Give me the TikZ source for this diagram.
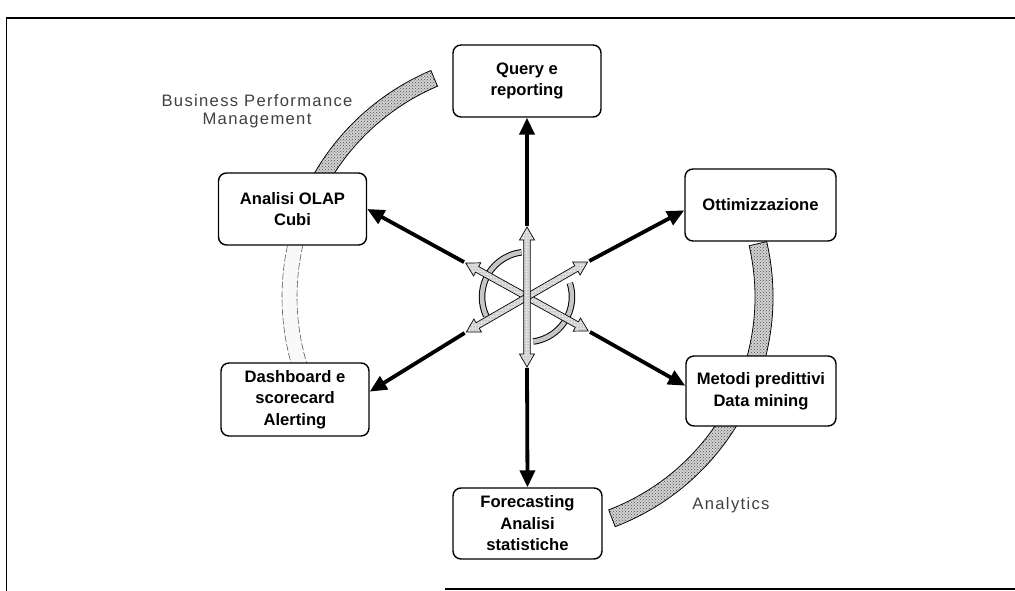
\documentclass[tikz,border=0pt]{standalone}
\usepackage{fontspec}
\setmainfont{Liberation Sans}
\newfontfamily\spacedsans[LetterSpace=8]{Liberation Sans}
\usetikzlibrary{arrows.meta,calc,patterns}

% annular sector around the hub (c): start angle, end angle, inner radius, outer radius, style
\newcommand\arcband[5]{%
  \path[#5] ($(c)+(#1:#3)$) arc[start angle=#1,end angle=#2,radius=#3]
    -- ($(c)+(#2:#4)$) arc[start angle=#2,end angle=#1,radius=#4] -- cycle;}

\begin{document}
\begin{tikzpicture}[x=1pt,y=1pt,
  box/.style={draw, line width=1.4pt, rounded corners=8pt, fill=white,
    minimum width=148pt, minimum height=72pt, align=center, inner sep=0pt,
    font=\fontsize{16.6}{21.5}\selectfont\bfseries},
  link/.style={line width=3.8pt, -{Triangle[length=17pt,width=15pt]}},
  grain/.style={draw=black, line width=0.8pt, fill=gray!35,
    postaction={pattern=crosshatch dots, pattern color=black!70}},
  lightgrain/.style={draw=black, line width=0.7pt, fill=gray!25,
    postaction={pattern=dots, pattern color=black!60}},
  paleband/.style={draw=black!65, line width=0.6pt, dash pattern=on 7pt off 2pt, fill=gray!5},
  hubarc/.style={line width=1pt, double=gray!45, double distance=4.5pt},
  caption/.style={align=center, text=black!75,
    font=\fontsize{16.6}{18.5}\selectfont\spacedsans},
  dblarrow/.pic={\path[lightgrain]
    (-70,0) -- (-57,7.5) -- (-57,3.2) -- (57,3.2) -- (57,7.5) -- (70,0)
    -- (57,-7.5) -- (57,-3.2) -- (-57,-3.2) -- (-57,-7.5) -- cycle;}
]
\useasboundingbox (0,0) rectangle (1015,591);

% page frame
\draw[line width=1.8pt] (6,573) -- (1015,573);
\draw[line width=0.8pt] (6,573) -- (6,0);
\draw[line width=1.8pt] (445,2) -- (1015,2);

% hub
\coordinate (c) at (527,294);

% outer bands behind the boxes
\arcband{113}{158}{229}{246}{grain}
\arcband{158}{198}{230}{245}{paleband}
\arcband{13}{-69}{228}{246}{grain}

% boxes
\node[box] (query)  at (527,510)   {Query e\\reporting};
\node[box] (olap)   at (292.5,382) {Analisi OLAP\\Cubi};
\node[box, minimum width=151pt] (ott) at (760.5,386) {Ottimizzazione};
\node[box, minimum height=73pt] (dash) at (295,191.5) {Dashboard e\\scorecard\\Alerting};
\node[box, minimum width=150pt, minimum height=70pt] (metodi) at (761,200) {Metodi predittivi\\Data mining};
\node[box, minimum width=149pt, minimum height=71pt] (fore) at (527.5,67.5) {Forecasting\\Analisi\\statistiche};

% rotation arcs round the hub
\draw[hubarc] ($(c)+(97:45)$) arc[start angle=97,end angle=205,radius=45];
\draw[hubarc] ($(c)+(18:45)$) arc[start angle=18,end angle=-82,radius=45];

% double block arrows through the hub
\pic[rotate=-29] at (c) {dblarrow};
\pic[rotate=30] at (c) {dblarrow};
\pic[rotate=90] at (c) {dblarrow};

% start points of the outer connectors
\coordinate (iu)  at ($(c)+(90:71)$);
\coordinate (id)  at ($(c)+(270:71)$);
\coordinate (iul) at ($(c)+(151:72)$);
\coordinate (iur) at ($(c)+(30:72)$);
\coordinate (ill) at ($(c)+(210:72)$);
\coordinate (ilr) at ($(c)+(-29:72)$);

% connectors to the boxes
\draw[link] (iu)  -- (query.south);
\draw[link] (id)  -- (fore.north);
\draw[link] (iul) -- (olap.east);
\draw[link] (iur) -- (ott.184);
\draw[link] (ill) -- (dash.6);
\draw[link] (ilr) -- (metodi.176);

% band captions
\node[caption] (bpm) at (257,480) {Business Performance\\Management};
\node[caption] (analytics) at (731,86) {Analytics};
\end{tikzpicture}
\end{document}
